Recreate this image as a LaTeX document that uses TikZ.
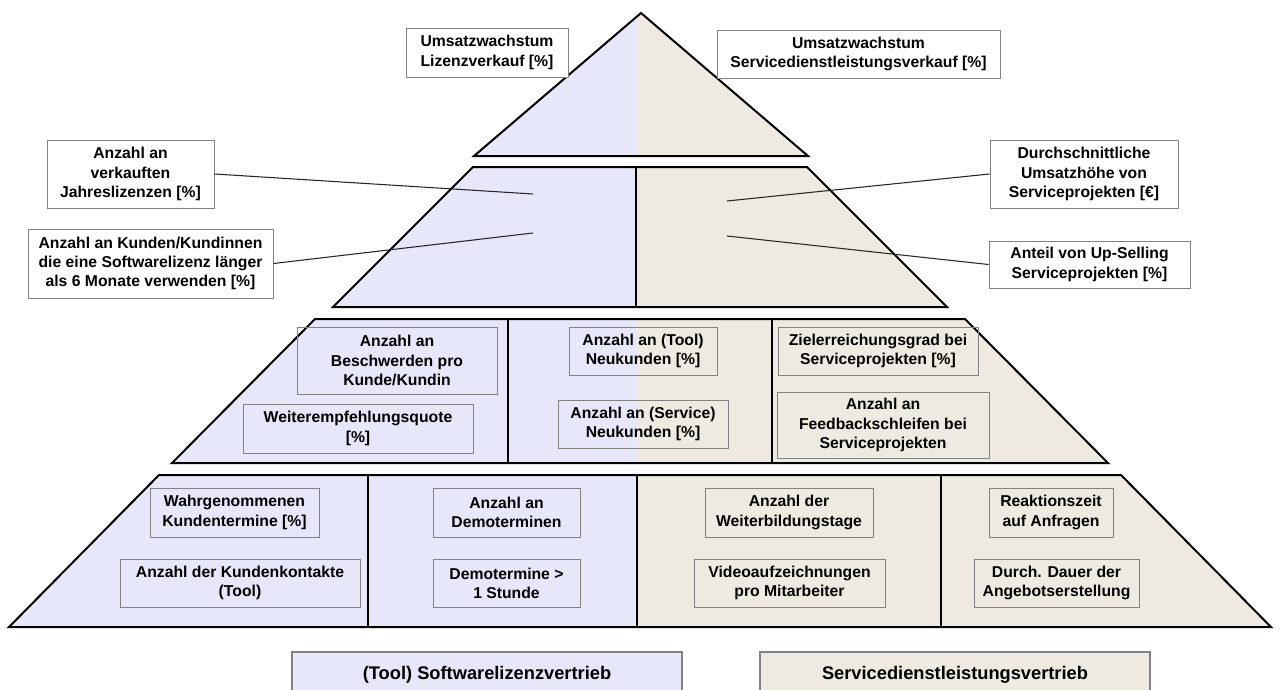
\documentclass[tikz,border=0pt]{standalone}
\usepackage{fontspec}
\setmainfont{Liberation Sans}
\definecolor{lic}{RGB}{231,231,250}
\definecolor{svc}{RGB}{239,234,225}
\definecolor{boxline}{RGB}{130,130,130}
\newcommand\kpifont{\fontsize{11.8}{14.4}\selectfont\bfseries}
\newcommand\legendfont{\fontsize{13.7}{16}\selectfont\bfseries}
% \boxat{style}{name}{x1}{y1}{x2}{y2}{text}: a box spanning two corners, text centred
\newcommand\boxat[7]{%
  \node[#1, minimum width={(#5-#3)*0.75pt}, minimum height={(#6-#4)*0.75pt}]
    (#2) at ({(#3+#5)/2},{(#4+#6)/2}) {#7};}
\begin{document}
\begin{tikzpicture}[x=0.75pt,y=-0.75pt,
  tier/.style={draw=black,line width=1.5pt,line join=miter},
  divider/.style={draw=black,line width=1.4pt},
  kpi/.style={draw=boxline,line width=0.7pt,inner sep=0pt,align=center,font=\kpifont},
  side/.style={kpi,fill=white},
  link/.style={draw=black!85,line width=0.8pt},
  legendbox/.style={draw=boxline,line width=0.8pt,inner sep=0pt,align=center,font=\legendfont}]
\useasboundingbox (0,0) rectangle (1280,689);

% pyramid fills: licence half left, service half right
\begin{scope}
  \clip (641,13) -- (808,156) -- (474,156) -- cycle
        (473,167) -- (807,167) -- (947,307) -- (333,307) -- cycle
        (315,319) -- (965,319) -- (1108,463) -- (172,463) -- cycle
        (159,475) -- (1121,475) -- (1271,627) -- (9,627) -- cycle;
  \fill[lic] (0,0) rectangle (637,689);
  \fill[svc] (637,0) rectangle (1280,689);
\end{scope}

% pyramid tiers
\draw[tier] (641,13) -- (808,156) -- (474,156) -- cycle;
\draw[tier] (473,167) -- (807,167) -- (947,307) -- (333,307) -- cycle;
\draw[tier] (315,319) -- (965,319) -- (1108,463) -- (172,463) -- cycle;
\draw[tier] (159,475) -- (1121,475) -- (1271,627) -- (9,627) -- cycle;

% tier dividers
\draw[divider] (636,167) -- (636,307);
\draw[divider] (508,319) -- (508,463);
\draw[divider] (772,319) -- (772,463);
\draw[divider] (368,475) -- (368,627);
\draw[divider] (637,475) -- (637,627);
\draw[divider] (941,475) -- (941,627);

% top level
\boxat{side}{t1}{406}{28}{568}{77}{Umsatzwachstum\\Lizenzverkauf [\%]}
\boxat{side}{t2}{717}{30}{1000}{78}{Umsatzwachstum\\Servicedienstleistungsverkauf [\%]}

% second level, labelled from outside
\boxat{side}{l1}{47}{140}{214}{208}{Anzahl an\\verkauften\\Jahreslizenzen [\%]}
\boxat{side}{l2}{28}{229}{273}{298}{Anzahl an Kunden/Kundinnen\\die eine Softwarelizenz länger\\als 6 Monate verwenden [\%]}
\boxat{side}{r1}{990}{140}{1178}{208}{Durchschnittliche\\Umsatzhöhe von\\Serviceprojekten [€]}
\boxat{side}{r2}{989}{241}{1190}{288}{Anteil von Up-Selling\\Serviceprojekten [\%]}

\coordinate (pl1) at (533,194);
\coordinate (pl2) at (533,233);
\coordinate (pr1) at (727,201);
\coordinate (pr2) at (727,236);
\draw[link] (l1.east) -- (pl1);
\draw[link] (l2.east) -- (pl2);
\draw[link] (r1.west) -- (pr1);
\draw[link] (r2.west) -- (pr2);

% third level
\boxat{kpi}{b31}{297}{327}{497}{394}{Anzahl an\\Beschwerden pro\\Kunde/Kundin}
\boxat{kpi}{b32}{243}{404}{473}{453}{Weiterempfehlungsquote\\{}[\%]}
\boxat{kpi}{b33}{569}{327}{717}{375}{Anzahl an (Tool)\\Neukunden [\%]}
\boxat{kpi}{b34}{558}{400}{728}{448}{Anzahl an (Service)\\Neukunden [\%]}
\boxat{kpi}{b35}{778}{327}{978}{375}{Zielerreichungsgrad bei\\Serviceprojekten [\%]}
\boxat{kpi}{b36}{777}{392}{989}{458}{Anzahl an\\Feedbackschleifen bei\\Serviceprojekten}

% fourth level
\boxat{kpi}{b41}{150}{488}{319}{537}{Wahrgenommenen\\Kundentermine [\%]}
\boxat{kpi}{b42}{120}{559}{360}{607}{Anzahl der Kundenkontakte\\(Tool)}
\boxat{kpi}{b43}{433}{488}{580}{537}{Anzahl an\\Demoterminen}
\boxat{kpi}{b44}{433}{559}{580}{607}{Demotermine >\\1 Stunde}
\boxat{kpi}{b45}{705}{488}{873}{537}{Anzahl der\\Weiterbildungstage}
\boxat{kpi}{b46}{694}{559}{885}{607}{Videoaufzeichnungen\\pro Mitarbeiter}
\boxat{kpi}{b47}{989}{488}{1113}{537}{Reaktionszeit\\auf Anfragen}
\boxat{kpi}{b48}{974}{559}{1139}{607}{Durch. Dauer der\\Angebotserstellung}

% legend
\boxat{legendbox,fill=lic}{lg1}{292}{652}{682}{698}{(Tool) Softwarelizenzvertrieb}
\boxat{legendbox,fill=svc}{lg2}{760}{652}{1150}{698}{Servicedienstleistungsvertrieb}
\end{tikzpicture}
\end{document}
